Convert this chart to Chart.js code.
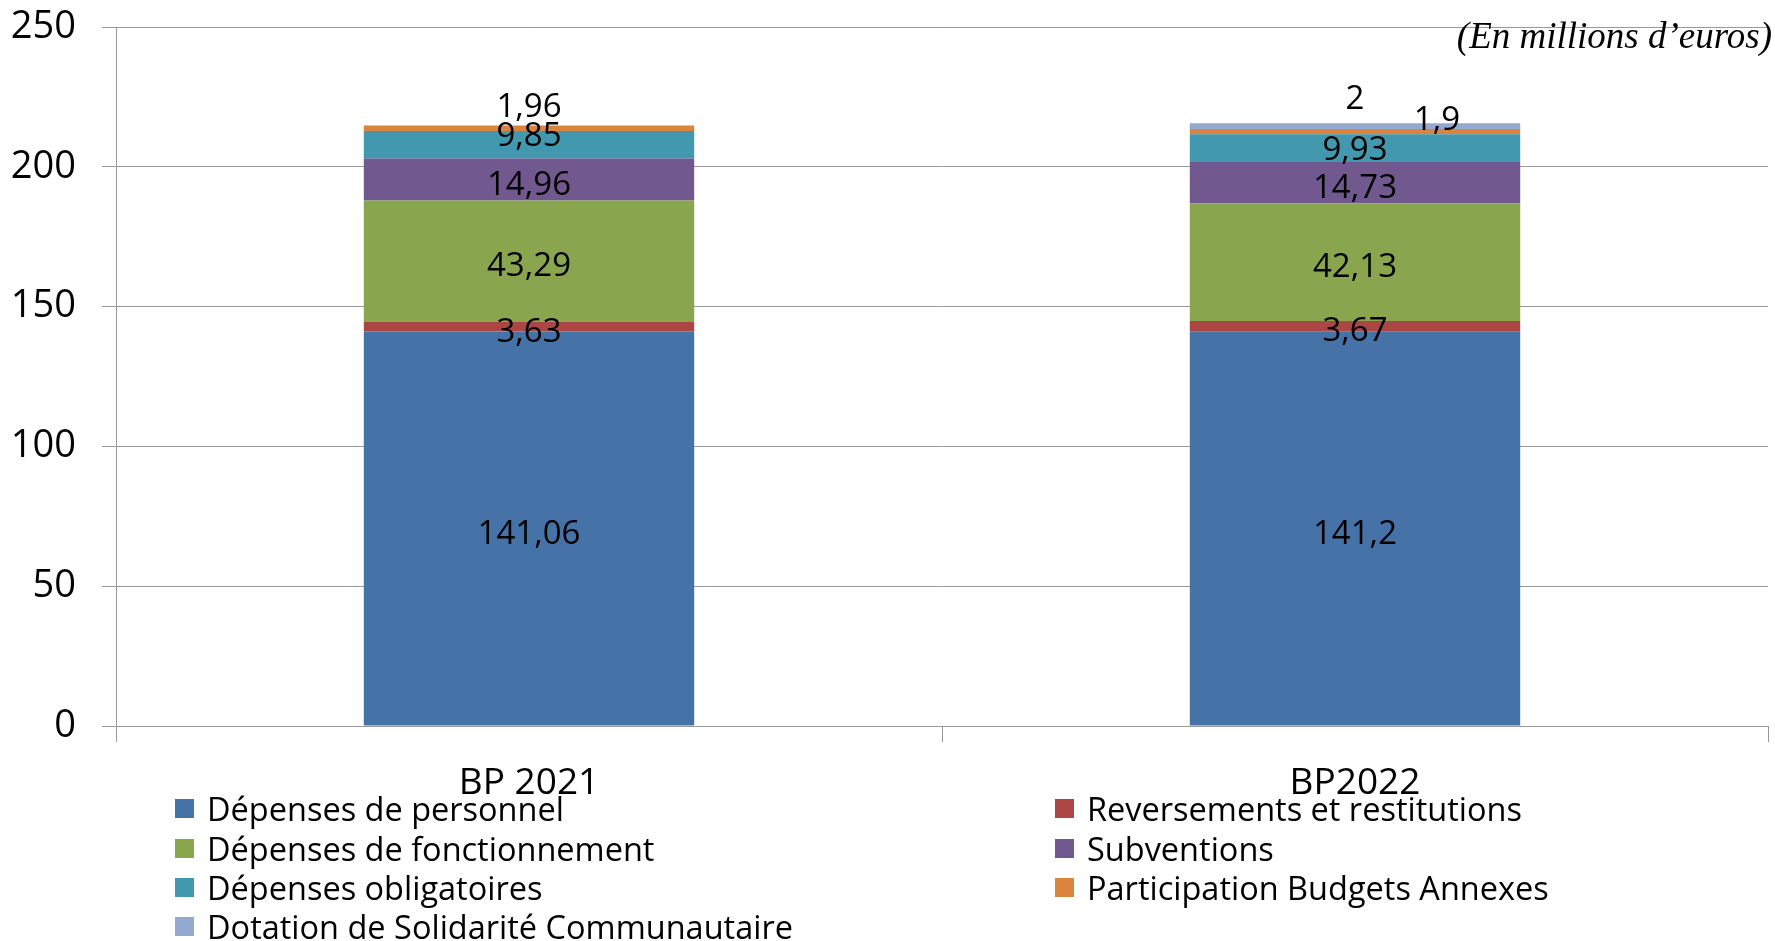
<!DOCTYPE html>
<html>
<head>
<meta charset="utf-8">
<script src="https://cdn.jsdelivr.net/npm/chart.js@4.4.1/dist/chart.umd.min.js"></script>
<style>
  html, body { margin: 0; padding: 0; background: #ffffff; }
  #wrap { position: relative; width: 1775px; height: 941px; overflow: hidden; }
  #c { position: absolute; left: 0; top: 0; }
  #unit { position: absolute; right: 3px; top: 14px; font-family: "Liberation Serif", serif; font-style: italic; font-size: 37px; line-height: 44px; color: #000; white-space: nowrap; }
  #legend { position: absolute; left: 0; top: 0; width: 1775px; height: 941px; pointer-events: none; font-family: "Open Sans", sans-serif; font-size: 32.5px; color: #000; }
  .li { position: absolute; display: flex; align-items: center; white-space: nowrap; }
  .sw { width: 19px; height: 19px; margin-right: 13px; }
</style>
</head>
<body>
<div id="wrap">
  <canvas id="c" width="1775" height="941"></canvas>
  <div id="unit">(En millions d’euros)</div>
  <div id="legend"></div>
</div>
<script>
const categories = ["BP 2021", "BP2022"];
const seriesNames = [
  "Dépenses de personnel",
  "Reversements et restitutions",
  "Dépenses de fonctionnement",
  "Subventions",
  "Dépenses obligatoires",
  "Participation Budgets Annexes",
  "Dotation de Solidarité Communautaire"
];
const depensesPersonnel = [141.06, 141.2];
const reversements = [3.63, 3.67];
const depensesFonctionnement = [43.29, 42.13];
const subventions = [14.96, 14.73];
const depensesObligatoires = [9.85, 9.93];
const participationBudgets = [1.96, 1.9];
const dotationSolidarite = [null, 2];
const yTicks = [0, 50, 100, 150, 200, 250];

const colors = ["#4572A7", "#AA4643", "#89A54E", "#71588F", "#4198AF", "#DB843D", "#93A9CF"];
const seriesValues = [depensesPersonnel, reversements, depensesFonctionnement, subventions, depensesObligatoires, participationBudgets, dotationSolidarite];

// label offsets (pixels) for crowded small segments: [datasetIndex][pointIndex] = [dx, dy]
const labelOffsets = {
  4: { 0: [0, -14], 1: [0, -3] },
  5: { 0: [0, -27], 1: [82, -17] },
  6: { 1: [0, -32] }
};
const baseShift = 6;

const fmt = v => String(v).replace('.', ',');

const segLabels = {
  id: 'segLabels',
  afterDatasetsDraw(chart) {
    const ctx = chart.ctx;
    ctx.save();
    ctx.font = '33px "Open Sans", sans-serif';
    ctx.fillStyle = '#000';
    ctx.textAlign = 'center';
    ctx.textBaseline = 'middle';
    chart.data.datasets.forEach((ds, di) => {
      const meta = chart.getDatasetMeta(di);
      meta.data.forEach((el, i) => {
        const v = ds.data[i];
        if (v === null || v === undefined) return;
        const off = (labelOffsets[di] && labelOffsets[di][i]) || [0, 0];
        const cy = (el.y + el.base) / 2;
        ctx.fillText(fmt(v), el.x + off[0], cy + off[1] + baseShift);
      });
    });
    ctx.restore();
  }
};

const datasets = seriesNames.map((name, i) => ({
  label: name,
  data: seriesValues[i],
  backgroundColor: colors[i],
  borderWidth: 0,
  barPercentage: 0.4,
  categoryPercentage: 1.0
}));

new Chart(document.getElementById('c'), {
  type: 'bar',
  data: { labels: categories, datasets },
  options: {
    responsive: false,
    animation: false,
    layout: { padding: { left: 0, right: 7, top: 27, bottom: 145 } },
    plugins: { legend: { display: false }, tooltip: { enabled: false } },
    scales: {
      x: {
        stacked: true,
        grid: { display: true, drawOnChartArea: false, drawTicks: true, tickLength: 16, offset: true, color: '#999999', lineWidth: 1 },
        border: { display: true, color: '#999999', width: 1 },
        ticks: { color: '#000', font: { family: 'Open Sans', size: 37 }, padding: 19 },
        afterFit(s) { s.height = 70; s.paddingLeft = 0; s.paddingRight = 0; }
      },
      y: {
        stacked: true,
        min: 0, max: 250,
        afterBuildTicks(s) { s.ticks = yTicks.map(v => ({ value: v })); },
        grid: { color: '#999999', lineWidth: 1, drawTicks: true, tickLength: 14 },
        border: { display: true, color: '#999999', width: 1 },
        ticks: { color: '#000', font: { family: 'Open Sans', size: 38 }, padding: 26 },
        afterFit(s) { s.width = 116; s.paddingTop = 0; s.paddingBottom = 0; }
      }
    }
  },
  plugins: [segLabels]
});

// Legend (two columns, row-major)
const legend = document.getElementById('legend');
const colX = [175, 1055];
const rowY = [808, 848, 887, 926];
seriesNames.forEach((name, i) => {
  const d = document.createElement('div');
  d.className = 'li';
  d.style.left = colX[i % 2] + 'px';
  d.style.top = (rowY[Math.floor(i / 2)] - 22) + 'px';
  d.style.height = '44px';
  const sw = document.createElement('span');
  sw.className = 'sw';
  sw.style.background = colors[i];
  const t = document.createElement('span');
  t.textContent = name;
  d.appendChild(sw); d.appendChild(t);
  legend.appendChild(d);
});
</script>
</body>
</html>
